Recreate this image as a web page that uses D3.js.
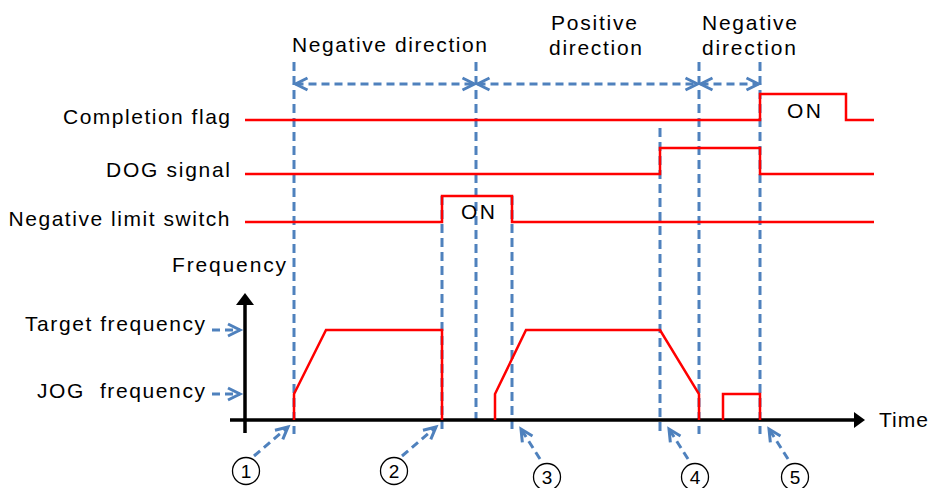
<!DOCTYPE html>
<html>
<head>
<meta charset="utf-8">
<script src="https://cdn.jsdelivr.net/npm/d3@7"></script>
<style>
  html, body { margin: 0; padding: 0; background: #fff; }
  svg { display: block; }
  text { font-family: "Liberation Sans", Arial, sans-serif; fill: #000; }
</style>
</head>
<body>
<svg id="chart" width="935" height="488"></svg>
<script>
// ---------------- DATA ----------------
// time in arbitrary units, signals as step states (0 = OFF, 1 = ON)
const signalNames = ["Completion flag", "DOG signal", "Negative limit switch"];
const completionFlag = [[0, 0], [515, 1], [601, 0], [629, 0]];
const dogSignal      = [[0, 0], [415, 1], [515, 0], [629, 0]];
const negLimitSwitch = [[0, 0], [197, 1], [267, 0], [629, 0]];
const onLabelSignal = ["Negative limit switch", "Completion flag"];
const onLabelText = ["ON", "ON"];

// frequency profiles [time, frequency]
const freqLevelNames = ["Target frequency", "JOG\u00A0 frequency"];
const freqLevels = [90, 26];
const profile1 = [[49, 0], [49, 26], [81, 90], [197, 90], [197, 0]];
const profile2 = [[250, 0], [250, 26], [281, 90], [415, 90], [454, 26], [454, 0]];
const profile3 = [[478, 0], [478, 26], [515, 26], [515, 0]];

// guide (event) lines
const guideTimes = [49, 197, 231, 267, 415, 454, 515];
const guideFrom  = ["top", "limit", "top", "limit", "dog", "top", "top"];
const guideTo    = ["below", "below", "axis", "below", "below", "below", "below"];

// direction spans
const dirStart = [49, 231, 454];
const dirEnd   = [231, 454, 515];
const dirLabels = [["Negative direction"], ["Positive", "direction"], ["Negative", "direction"]];

// circled event markers
const markerNums = ["1", "2", "3", "4", "5"];
const markerTimes = [49, 197, 267, 415, 515];
const markerSide = [-1, -1, 1, 1, 1];

const axisLabels = ["Frequency", "Time"];

// ---------------- DRAW ----------------
const svg = d3.select("#chart");
const RED = "#ff0000", BLUE = "#4f81bd";
const FS = 21;

const x = d3.scaleLinear().domain([0, 620]).range([245, 865]);
const yF = d3.scaleLinear().domain([0, 127]).range([420, 293]);
const sigBase = d3.scaleOrdinal().domain(signalNames).range([120, 174, 222]);
const sigAmp = d3.scaleLinear().domain([0, 1]).range([0, -26]);

function chevron(g, x1, y1, x2, y2, L, W) {
  const dx = x2 - x1, dy = y2 - y1, len = Math.hypot(dx, dy);
  const ux = dx / len, uy = dy / len, px = -uy, py = ux;
  g.append("path")
    .attr("d", `M${x2 - L * ux + W * px},${y2 - L * uy + W * py}L${x2},${y2}L${x2 - L * ux - W * px},${y2 - L * uy - W * py}`)
    .attr("fill", "none").attr("stroke", BLUE).attr("stroke-width", 3)
    .attr("stroke-linejoin", "miter");
}
function dashedArrow(g, x1, y1, x2, y2, both) {
  g.append("line").attr("x1", x1).attr("y1", y1).attr("x2", x2).attr("y2", y2)
    .attr("stroke", BLUE).attr("stroke-width", 3).attr("stroke-dasharray", "8,5");
  chevron(g, x1, y1, x2, y2, 12, 6);
  if (both) chevron(g, x2, y2, x1, y1, 12, 6);
}
function label(g, txt, x0, y0, w, size) {
  g.append("text").attr("x", x0).attr("y", y0)
    .attr("font-size", size || FS)
    .attr("textLength", w).attr("lengthAdjust", "spacing")
    .text(txt);
}

// guide lines
const gGuide = svg.append("g");
const topY = { top: 62, limit: sigBase("Negative limit switch") + sigAmp(1), dog: 128 };
const botY = { below: yF(-14), axis: yF(0) };
guideTimes.forEach((t, i) => {
  gGuide.append("line")
    .attr("x1", x(t)).attr("x2", x(t))
    .attr("y1", topY[guideFrom[i]]).attr("y2", botY[guideTo[i]])
    .attr("stroke", BLUE).attr("stroke-width", 3).attr("stroke-dasharray", "9,5");
});

// axes
const gAxis = svg.append("g");
gAxis.append("line").attr("x1", x(-15)).attr("x2", x(611)).attr("y1", yF(0)).attr("y2", yF(0))
  .attr("stroke", "#000").attr("stroke-width", 3.5);
gAxis.append("path").attr("d", `M${x(620)},${yF(0)}L${x(609)},${yF(0) - 8}L${x(609)},${yF(0) + 8}Z`).attr("fill", "#000");
gAxis.append("line").attr("x1", x(0)).attr("x2", x(0)).attr("y1", yF(-13)).attr("y2", yF(117))
  .attr("stroke", "#000").attr("stroke-width", 3.5);
gAxis.append("path").attr("d", `M${x(0)},${yF(127)}L${x(0) - 9},${yF(115)}L${x(0) + 9},${yF(115)}Z`).attr("fill", "#000");

// signals
const sigLine = name => d3.line().curve(d3.curveStepAfter)
  .x(d => x(d[0])).y(d => sigBase(name) + sigAmp(d[1]));
const gSig = svg.append("g");
[completionFlag, dogSignal, negLimitSwitch].forEach((s, i) => {
  gSig.append("path").attr("d", sigLine(signalNames[i])(s))
    .attr("fill", "none").attr("stroke", RED).attr("stroke-width", 2.5);
});

// frequency profiles
const fLine = d3.line().x(d => x(d[0])).y(d => yF(d[1]));
[profile1, profile2, profile3].forEach(p => {
  svg.append("path").attr("d", fLine(p)).attr("fill", "none")
    .attr("stroke", RED).attr("stroke-width", 2.5).attr("stroke-linejoin", "miter");
});

// direction arrows
const gDir = svg.append("g");
dirStart.forEach((s, i) => {
  dashedArrow(gDir, x(s) + 1.5, 84, x(dirEnd[i]) - 1.5, 84, true);
});
const gTxt = svg.append("g");
label(gTxt, dirLabels[0][0], 292, 52, 195);
label(gTxt, dirLabels[1][0], 551, 30, 86);
label(gTxt, dirLabels[1][1], 549, 55, 93);
label(gTxt, dirLabels[2][0], 702, 30, 95);
label(gTxt, dirLabels[2][1], 702, 55, 94);

// signal labels
label(gTxt, signalNames[0], 63, 124, 167);
label(gTxt, signalNames[1], 106, 177, 124);
label(gTxt, signalNames[2], 8.5, 226, 221);
// ON labels
label(gTxt, onLabelText[0], 461, sigBase(onLabelSignal[0]) - 3, 34);
label(gTxt, onLabelText[1], 787, sigBase(onLabelSignal[1]) - 2, 34);

// axis labels
label(gTxt, axisLabels[0], 172, 272, 114);
label(gTxt, axisLabels[1], 879, 427, 49);
label(gTxt, freqLevelNames[0], 25, yF(freqLevels[0]) + 1, 180);
label(gTxt, freqLevelNames[1], 37, yF(freqLevels[1]) + 4, 168);
freqLevels.forEach(v => {
  dashedArrow(gTxt, x(-33), yF(v), x(-5), yF(v), false);
});

// circled markers
const gMk = svg.append("g");
markerTimes.forEach((t, i) => {
  const left = markerSide[i] < 0;
  const cx = left ? x(t) - 48 : x(t) + 35;
  const cy = left ? 471 : 477;
  gMk.append("circle").attr("cx", cx).attr("cy", cy).attr("r", 13.5)
    .attr("fill", "#fff").attr("stroke", "#000").attr("stroke-width", 1.3);
  gMk.append("text").attr("x", cx).attr("y", cy + 6.5).attr("text-anchor", "middle")
    .attr("font-size", 19).text(markerNums[i]);
  if (left) dashedArrow(gMk, cx + 8, cy - 15, x(t) - 6, 427, false);
  else dashedArrow(gMk, cx - 7, cy - 18, x(t) + 9, 429, false);
});
</script>
</body>
</html>
